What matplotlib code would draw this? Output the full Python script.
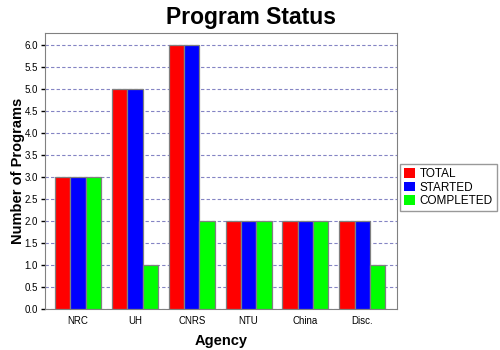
import numpy as np
import matplotlib
matplotlib.use("Agg")
from matplotlib import pyplot as plt

plt.rcParams['font.family'] = ['Liberation Sans', 'DejaVu Sans']

agencies = ["NRC", "UH", "CNRS", "NTU", "China", "Disc."]
total = [3, 5, 6, 2, 2, 2]
started = [3, 5, 6, 2, 2, 2]
completed = [3, 1, 2, 2, 2, 1]
series_names = ["TOTAL", "STARTED", "COMPLETED"]
colors = ["#ff0000", "#0000ff", "#00ff00"]

fig = plt.figure(figsize=(5, 3.5), dpi=100)
ax = fig.add_axes([0.09, 0.117, 0.704, 0.789])

x = np.arange(len(agencies))
w = 0.27
for i, (vals, name, c) in enumerate(zip([total, started, completed], series_names, colors)):
    ax.bar(x + (i - 1) * w, vals, w, color=c, edgecolor="#808080", linewidth=0.9,
           label=name, zorder=3)

ax.set_xlim(-0.58, 5.61)
ax.set_ylim(0, 6.27)
yt = np.arange(0, 6.01, 0.5)
ax.set_yticks(yt)
ax.set_yticklabels(["%.1f" % v for v in yt])
ax.set_xticks(x)
ax.set_xticklabels(agencies)
ax.tick_params(axis="x", length=0, labelsize=7, pad=5)
ax.tick_params(axis="y", length=3, width=1, labelsize=7, direction="out", pad=2)
ax.yaxis.grid(True, linestyle=(0, (3, 2)), color="#8484c4", linewidth=0.8, zorder=0)
for s in ax.spines.values():
    s.set_color("#808080")

ax.set_xlabel("Agency", fontsize=10.5, fontweight="bold", labelpad=6)
ax.set_ylabel("Number of Programs", fontsize=10.5, fontweight="bold")
ax.yaxis.set_label_coords(-0.057, 0.5)
fig.text(0.503, 0.95, "Program Status", ha="center", va="center",
         fontsize=16.5, fontweight="bold")

leg = ax.legend(loc="center left", bbox_to_anchor=(1.008, 0.44), fontsize=8.5,
                frameon=True, fancybox=False, handlelength=0.9, handleheight=0.9,
                handletextpad=0.4, borderpad=0.35, labelspacing=0.12, borderaxespad=0)
leg.get_frame().set_edgecolor("#808080")
for h in leg.legend_handles:
    h.set_edgecolor("none")

fig.savefig("out.png", dpi=100)
